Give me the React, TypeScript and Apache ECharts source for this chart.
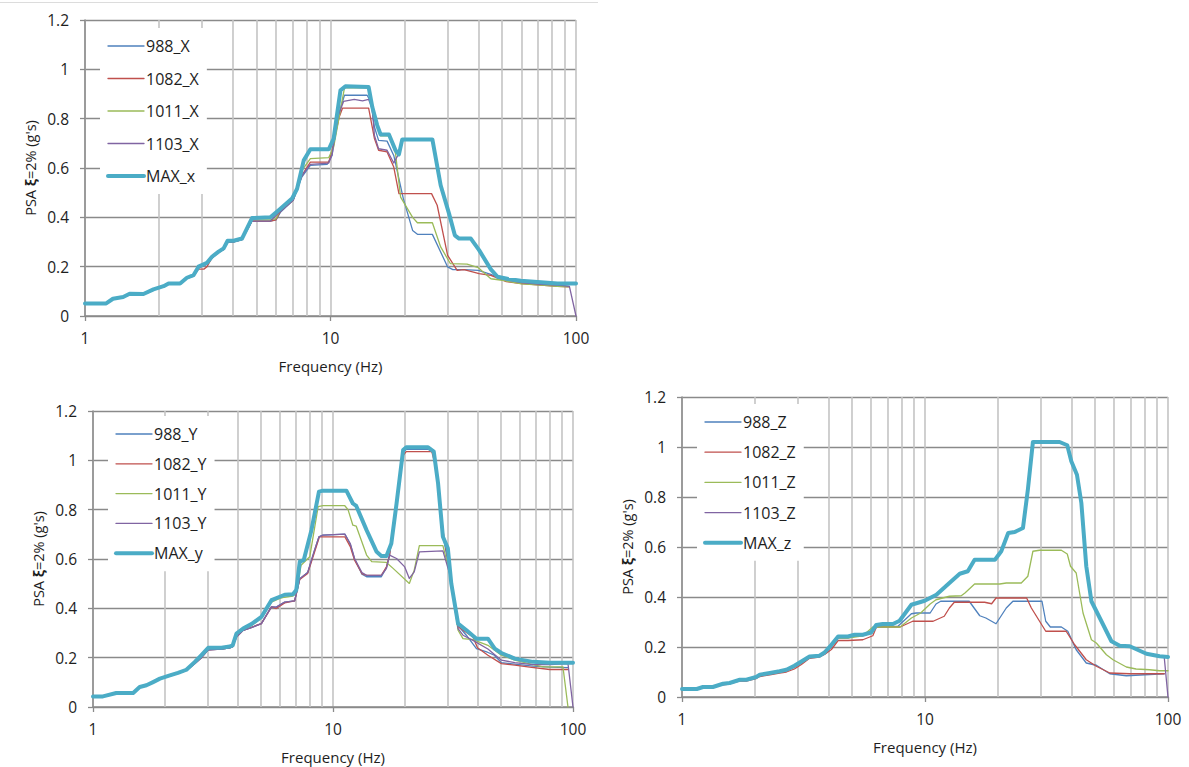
import { useEffect, useRef } from "react";
import * as echarts from "echarts";

// ---------- DATA (frequency Hz, PSA g) ----------
const minorFreqs = [2, 3, 4, 5, 6, 7, 8, 9, 20, 30, 40, 50, 60, 70, 80, 90];

// Chart X
const x988: [number, number][] = [
  [1, 0.05], [1.22, 0.05], [1.3, 0.068], [1.43, 0.075], [1.52, 0.088], [1.73, 0.087], [1.9, 0.106], [2.09, 0.119],
  [2.19, 0.13], [2.44, 0.13], [2.6, 0.152], [2.77, 0.163], [2.9, 0.195], [3.14, 0.21], [3.29, 0.235], [3.5, 0.258],
  [3.67, 0.27], [3.81, 0.3], [4.03, 0.3], [4.36, 0.31], [4.79, 0.385], [5.69, 0.385], [6.0, 0.39], [6.25, 0.42],
  [7.05, 0.469], [7.65, 0.564], [8.28, 0.611], [9.7, 0.615], [10.15, 0.651], [10.7, 0.807], [11.4, 0.895],
  [14.1, 0.895], [14.6, 0.868], [15.1, 0.766], [15.7, 0.712], [17.0, 0.709], [18.1, 0.651], [19.8, 0.476],
  [21.6, 0.347], [22.6, 0.331], [26.0, 0.331], [30.0, 0.199], [31.5, 0.188], [35, 0.188], [40, 0.185], [45, 0.169],
  [50, 0.15], [60, 0.135], [72, 0.128], [84, 0.125], [94, 0.12],
];
const x1082: [number, number][] = [
  [1, 0.05], [1.22, 0.05], [1.3, 0.068], [1.43, 0.075], [1.52, 0.088], [1.73, 0.087], [1.9, 0.106], [2.09, 0.119],
  [2.19, 0.13], [2.44, 0.13], [2.6, 0.152], [2.77, 0.163], [2.9, 0.19], [3.05, 0.19], [3.14, 0.2], [3.29, 0.235],
  [3.5, 0.258], [3.67, 0.27], [3.81, 0.3], [4.03, 0.3], [4.36, 0.31], [4.79, 0.385], [5.69, 0.385], [6.0, 0.39],
  [6.25, 0.425], [7.05, 0.47], [7.65, 0.57], [8.28, 0.624], [9.84, 0.624], [10.15, 0.672], [10.85, 0.807],
  [11.2, 0.843], [14.3, 0.843], [15.1, 0.719], [15.7, 0.672], [17.0, 0.665], [18.1, 0.604], [19.0, 0.496],
  [25.8, 0.496], [27.2, 0.449], [30.0, 0.246], [32.8, 0.185], [35, 0.188], [40.3, 0.172], [45, 0.165], [52, 0.139],
  [60, 0.131], [72, 0.125], [84, 0.12], [94, 0.118],
];
const x1011: [number, number][] = [
  [1, 0.05], [1.22, 0.05], [1.3, 0.069], [1.43, 0.076], [1.52, 0.089], [1.73, 0.088], [1.9, 0.107], [2.09, 0.12],
  [2.19, 0.131], [2.44, 0.131], [2.6, 0.153], [2.77, 0.164], [2.9, 0.197], [3.14, 0.212], [3.29, 0.237], [3.5, 0.259],
  [3.67, 0.272], [3.81, 0.302], [4.03, 0.302], [4.36, 0.312], [4.79, 0.39], [5.69, 0.39], [6.0, 0.395], [6.25, 0.43],
  [7.05, 0.475], [7.65, 0.59], [8.28, 0.638], [9.84, 0.642], [10.3, 0.685], [10.85, 0.807], [11.4, 0.925],
  [14.3, 0.925], [14.8, 0.84], [15.5, 0.765], [16.0, 0.73], [17.3, 0.73], [18.4, 0.66], [19.3, 0.482], [21.6, 0.4],
  [22.6, 0.378], [26, 0.378], [28.1, 0.28], [30.8, 0.212], [36, 0.21], [40, 0.196], [45, 0.151], [50, 0.145],
  [60, 0.13], [72, 0.125], [84, 0.12], [94, 0.118],
];
const x1103: [number, number][] = [
  [1, 0.05], [1.22, 0.05], [1.3, 0.068], [1.43, 0.075], [1.52, 0.088], [1.73, 0.087], [1.9, 0.106], [2.09, 0.119],
  [2.19, 0.13], [2.44, 0.13], [2.6, 0.152], [2.77, 0.163], [2.9, 0.195], [3.14, 0.21], [3.29, 0.235], [3.5, 0.258],
  [3.67, 0.27], [3.81, 0.3], [4.03, 0.3], [4.36, 0.31], [4.79, 0.385], [5.69, 0.385], [6.25, 0.425], [7.05, 0.47],
  [7.65, 0.57], [8.28, 0.615], [9.84, 0.62], [10.15, 0.655], [10.7, 0.807], [11.3, 0.87], [12.5, 0.878],
  [13.5, 0.872], [14.3, 0.878], [14.8, 0.84], [15.1, 0.732], [15.7, 0.678], [17.0, 0.672], [18.1, 0.62],
  [18.8, 0.651], [19.6, 0.714], [26.0, 0.714], [28.1, 0.53], [30.4, 0.413], [32.1, 0.325], [33.4, 0.312],
  [37.3, 0.312], [40.3, 0.265], [45, 0.187], [47.9, 0.157], [53, 0.145], [60, 0.135], [72, 0.128], [84, 0.125],
  [94, 0.12], [100, 0],
];
const xMax: [number, number][] = [
  [1, 0.051], [1.22, 0.051], [1.3, 0.07], [1.43, 0.077], [1.52, 0.09], [1.73, 0.089], [1.9, 0.108], [2.09, 0.121],
  [2.19, 0.132], [2.44, 0.132], [2.6, 0.155], [2.77, 0.166], [2.9, 0.2], [3.14, 0.216], [3.29, 0.24], [3.5, 0.261],
  [3.67, 0.274], [3.81, 0.305], [4.03, 0.305], [4.36, 0.314], [4.79, 0.397], [5.69, 0.4], [6.25, 0.435],
  [6.97, 0.476], [7.31, 0.516], [7.78, 0.631], [8.28, 0.676], [9.84, 0.676], [10.3, 0.719], [10.98, 0.915],
  [11.5, 0.931], [14.3, 0.928], [14.8, 0.847], [15.5, 0.773], [16.0, 0.736], [17.3, 0.736], [18.4, 0.672],
  [19.0, 0.655], [19.6, 0.716], [26.0, 0.716], [28.1, 0.53], [30.4, 0.415], [32.1, 0.327], [33.4, 0.314],
  [37.3, 0.314], [40.3, 0.267], [45, 0.189], [47.9, 0.159], [53, 0.15], [59.6, 0.143], [72, 0.137], [84, 0.132],
  [100, 0.132],
];

// Chart Y
const y988: [number, number][] = [
  [1, 0.043], [1.1, 0.043], [1.25, 0.057], [1.47, 0.057], [1.565, 0.08], [1.67, 0.087], [1.78, 0.1], [1.9, 0.113],
  [2.09, 0.126], [2.26, 0.136], [2.45, 0.148], [2.65, 0.175], [2.83, 0.2], [3.02, 0.232], [3.43, 0.235],
  [3.71, 0.24], [3.82, 0.245], [3.96, 0.284], [4.22, 0.311], [4.57, 0.322], [5.03, 0.338], [5.54, 0.406],
  [5.8, 0.405], [6.29, 0.425], [6.92, 0.43], [7.27, 0.52], [7.84, 0.545], [8.34, 0.63], [8.74, 0.69], [9.08, 0.697],
  [11.2, 0.701], [11.8, 0.66], [12.3, 0.6], [13.2, 0.538], [13.8, 0.528], [15.9, 0.528], [16.7, 0.565],
  [17.2, 0.616], [18.4, 0.825], [19.6, 1.03], [20.2, 1.045], [24.9, 1.045], [26.3, 1.03], [27.4, 0.9], [28.7, 0.7],
  [31.1, 0.51], [33.2, 0.33], [36, 0.29], [39.6, 0.237], [44, 0.222], [47, 0.21], [50.3, 0.18], [57.2, 0.174],
  [68.1, 0.166], [80, 0.162], [95, 0.16],
];
const y1082: [number, number][] = [
  [1, 0.043], [1.1, 0.043], [1.25, 0.057], [1.47, 0.057], [1.565, 0.08], [1.67, 0.087], [1.78, 0.1], [1.9, 0.113],
  [2.09, 0.126], [2.26, 0.136], [2.45, 0.148], [2.65, 0.175], [2.83, 0.2], [3.02, 0.232], [3.43, 0.235],
  [3.71, 0.24], [3.82, 0.245], [3.96, 0.284], [4.22, 0.311], [5.03, 0.338], [5.54, 0.406], [5.8, 0.399],
  [6.29, 0.422], [6.92, 0.43], [7.27, 0.517], [7.84, 0.541], [8.34, 0.622], [8.78, 0.69], [11.2, 0.69],
  [11.8, 0.65], [12.3, 0.595], [13.2, 0.541], [13.8, 0.534], [15.9, 0.534], [16.7, 0.568], [17.2, 0.616],
  [18.4, 0.82], [19.6, 1.02], [20.2, 1.035], [25.8, 1.035], [27.0, 0.961], [28.7, 0.717], [31.1, 0.514],
  [33.2, 0.325], [38.3, 0.284], [40, 0.24], [44.2, 0.21], [50.3, 0.176], [57.2, 0.17], [66, 0.162], [80, 0.152],
  [95, 0.152],
];
const y1011: [number, number][] = [
  [1, 0.043], [1.1, 0.043], [1.25, 0.057], [1.47, 0.057], [1.565, 0.081], [1.67, 0.088], [1.78, 0.101],
  [1.9, 0.115], [2.09, 0.128], [2.26, 0.138], [2.45, 0.15], [2.65, 0.18], [2.83, 0.207], [3.02, 0.238],
  [3.43, 0.238], [3.71, 0.243], [3.82, 0.248], [3.96, 0.29], [4.22, 0.315], [4.57, 0.33], [5.03, 0.36],
  [5.54, 0.425], [6.0, 0.44], [6.29, 0.445], [6.81, 0.45], [7.03, 0.46], [7.36, 0.575], [8.0, 0.609],
  [8.67, 0.812], [9.08, 0.816], [11.2, 0.816], [11.55, 0.8], [12.1, 0.737], [12.5, 0.733], [13.8, 0.616],
  [14.5, 0.589], [16.7, 0.586], [17.8, 0.562], [20.8, 0.501], [21.8, 0.555], [22.9, 0.654], [28.7, 0.654],
  [30.6, 0.548], [33.2, 0.311], [34.8, 0.277], [38.3, 0.273], [44.2, 0.25], [50.3, 0.21], [57.2, 0.19],
  [68.1, 0.172], [75, 0.163], [90.8, 0.163], [95.3, 0],
];
const y1103: [number, number][] = [
  [1, 0.043], [1.1, 0.043], [1.25, 0.057], [1.47, 0.057], [1.565, 0.08], [1.67, 0.087], [1.78, 0.1], [1.9, 0.113],
  [2.09, 0.126], [2.26, 0.136], [2.45, 0.148], [2.65, 0.175], [2.83, 0.2], [3.02, 0.232], [3.43, 0.235],
  [3.71, 0.24], [3.82, 0.245], [3.96, 0.284], [4.22, 0.311], [4.57, 0.322], [5.03, 0.338], [5.54, 0.406],
  [5.8, 0.405], [6.29, 0.425], [6.92, 0.43], [7.27, 0.52], [7.84, 0.545], [8.34, 0.63], [8.74, 0.69],
  [9.08, 0.697], [11.2, 0.701], [11.8, 0.663], [12.3, 0.602], [13.2, 0.545], [13.8, 0.534], [15.9, 0.534],
  [16.7, 0.562], [17.2, 0.616], [18.4, 0.602], [19.9, 0.568], [20.8, 0.521], [21.8, 0.548], [22.9, 0.629],
  [28.7, 0.633], [30.6, 0.541], [33.2, 0.318], [34.8, 0.291], [38.3, 0.27], [44.2, 0.235], [50.3, 0.19],
  [57.2, 0.18], [68.1, 0.172], [80, 0.172], [95.3, 0.176], [100, 0],
];
const yMax: [number, number][] = [
  [1, 0.043], [1.1, 0.043], [1.25, 0.057], [1.47, 0.057], [1.565, 0.081], [1.67, 0.088], [1.78, 0.101],
  [1.9, 0.115], [2.09, 0.128], [2.26, 0.138], [2.45, 0.151], [2.65, 0.182], [2.83, 0.21], [3.02, 0.24],
  [3.43, 0.24], [3.71, 0.245], [3.82, 0.25], [3.96, 0.298], [4.22, 0.318], [4.57, 0.336], [5.03, 0.365],
  [5.54, 0.433], [6.0, 0.447], [6.29, 0.455], [6.81, 0.457], [7.03, 0.474], [7.27, 0.589], [7.55, 0.595],
  [8.13, 0.717], [8.74, 0.873], [9.08, 0.877], [11.37, 0.877], [12.1, 0.825], [12.5, 0.815], [13.8, 0.717],
  [15.2, 0.629], [15.9, 0.612], [16.7, 0.612], [17.5, 0.663], [18.4, 0.825], [19.6, 1.042], [20.2, 1.053],
  [24.9, 1.053], [26.3, 1.035], [27.4, 0.907], [28.7, 0.69], [30.1, 0.643], [31.1, 0.501], [33.2, 0.338],
  [36.0, 0.311], [39.6, 0.277], [44.2, 0.277], [47.2, 0.237], [50.3, 0.219], [57.2, 0.196], [68.1, 0.183],
  [80, 0.179], [100, 0.179],
];

// Chart Z
const z988: [number, number][] = [
  [1, 0.032], [1.15, 0.032], [1.22, 0.038], [1.34, 0.038], [1.475, 0.05], [1.57, 0.054], [1.73, 0.066],
  [1.84, 0.066], [2.02, 0.076], [2.09, 0.085], [2.3, 0.092], [2.52, 0.099], [2.69, 0.104], [2.9, 0.118],
  [3.1, 0.135], [3.35, 0.158], [3.68, 0.162], [3.86, 0.172], [4.12, 0.2], [4.39, 0.236], [4.82, 0.236],
  [5.13, 0.245], [5.55, 0.245], [6.02, 0.256], [6.31, 0.28], [7.74, 0.283], [8.79, 0.333], [9.2, 0.336],
  [10.5, 0.336], [11.1, 0.372], [11.6, 0.383], [15.2, 0.383], [16.8, 0.325], [17.8, 0.316], [19.6, 0.293],
  [21.6, 0.356], [23.0, 0.383], [30.3, 0.383], [31.4, 0.303], [32.8, 0.28], [36.4, 0.28], [38.7, 0.263],
  [41.9, 0.189], [46.1, 0.136], [50.7, 0.127], [57.6, 0.093], [67.4, 0.085], [80.2, 0.089], [96.5, 0.093],
];
const z1082: [number, number][] = [
  [1, 0.03], [1.15, 0.03], [1.22, 0.037], [1.34, 0.037], [1.475, 0.049], [1.57, 0.052], [1.73, 0.064],
  [1.84, 0.064], [2.02, 0.074], [2.09, 0.082], [2.3, 0.089], [2.52, 0.096], [2.69, 0.1], [2.9, 0.112],
  [3.1, 0.13], [3.35, 0.155], [3.68, 0.16], [3.86, 0.17], [4.12, 0.19], [4.39, 0.226], [4.82, 0.226],
  [5.55, 0.229], [6.1, 0.245], [6.31, 0.28], [7.9, 0.28], [8.9, 0.303], [10.8, 0.303], [12.0, 0.323],
  [12.6, 0.356], [13.2, 0.379], [17.6, 0.379], [18.8, 0.373], [19.6, 0.396], [26.2, 0.396], [27.4, 0.356],
  [31.4, 0.263], [38.1, 0.263], [41.3, 0.209], [46.1, 0.149], [50.7, 0.123], [57.6, 0.096], [69.6, 0.093],
  [96.5, 0.093],
];
const z1011: [number, number][] = [
  [1, 0.032], [1.15, 0.032], [1.22, 0.039], [1.34, 0.039], [1.475, 0.051], [1.57, 0.055], [1.73, 0.067],
  [1.84, 0.067], [2.02, 0.078], [2.09, 0.087], [2.3, 0.094], [2.52, 0.101], [2.69, 0.106], [2.9, 0.12],
  [3.1, 0.137], [3.35, 0.16], [3.68, 0.163], [3.86, 0.175], [4.12, 0.205], [4.39, 0.236], [4.82, 0.236],
  [5.55, 0.245], [6.1, 0.28], [7.9, 0.28], [8.79, 0.316], [9.6, 0.336], [10.5, 0.372], [11.1, 0.389],
  [12.6, 0.403], [14.1, 0.405], [14.6, 0.416], [16.0, 0.452], [20.3, 0.452], [21.6, 0.456], [24.9, 0.456],
  [26.5, 0.483], [27.8, 0.583], [29.6, 0.587], [36.4, 0.587], [38.5, 0.572], [39.7, 0.523], [41.9, 0.496],
  [44.7, 0.336], [48.4, 0.229], [50.7, 0.216], [55.8, 0.169], [59.4, 0.149], [67.4, 0.12], [73.9, 0.112],
  [84, 0.109], [92.4, 0.105], [100, 0.105],
];
const z1103: [number, number][] = [
  [1, 0.032], [1.15, 0.032], [1.22, 0.039], [1.34, 0.039], [1.475, 0.052], [1.57, 0.055], [1.73, 0.068],
  [1.84, 0.068], [2.02, 0.079], [2.09, 0.088], [2.3, 0.095], [2.52, 0.102], [2.69, 0.108], [2.9, 0.123],
  [3.1, 0.14], [3.35, 0.16], [3.68, 0.163], [3.86, 0.176], [4.12, 0.207], [4.39, 0.24], [4.82, 0.24],
  [5.13, 0.247], [5.55, 0.247], [6.0, 0.256], [6.3, 0.286], [6.7, 0.29], [7.38, 0.29], [7.86, 0.303],
  [8.79, 0.367], [9.97, 0.383], [11.14, 0.407], [12.6, 0.454], [13.9, 0.491], [15.0, 0.501], [16.0, 0.547],
  [19.4, 0.547], [20.6, 0.581], [22.0, 0.654], [23.4, 0.658], [25.3, 0.674], [26.5, 0.827], [27.8, 1.018],
  [35.8, 1.018], [38.5, 1.005], [40.0, 0.941], [42.2, 0.887], [44, 0.774], [46.1, 0.521], [48.4, 0.381],
  [52.4, 0.314], [58.5, 0.221], [63.3, 0.203], [69.6, 0.201], [81.5, 0.171], [92.4, 0.161], [96.5, 0.159],
  [100, 0],
];
const zMax: [number, number][] = [
  [1, 0.032], [1.15, 0.032], [1.22, 0.04], [1.34, 0.04], [1.475, 0.053], [1.57, 0.056], [1.73, 0.069],
  [1.84, 0.069], [2.02, 0.08], [2.09, 0.089], [2.3, 0.096], [2.52, 0.103], [2.69, 0.109], [2.9, 0.125],
  [3.1, 0.142], [3.35, 0.162], [3.68, 0.165], [3.86, 0.178], [4.12, 0.209], [4.39, 0.242], [4.82, 0.242],
  [5.13, 0.249], [5.55, 0.249], [6.0, 0.258], [6.3, 0.288], [6.7, 0.292], [7.38, 0.292], [7.86, 0.305],
  [8.79, 0.369], [9.97, 0.385], [11.14, 0.409], [12.6, 0.456], [13.9, 0.493], [15.0, 0.503], [16.0, 0.549],
  [19.4, 0.549], [20.6, 0.583], [22.0, 0.656], [23.4, 0.66], [25.3, 0.676], [26.5, 0.829], [27.8, 1.02],
  [35.8, 1.02], [38.5, 1.007], [40.0, 0.943], [42.2, 0.889], [44, 0.776], [46.1, 0.523], [48.4, 0.383],
  [52.4, 0.316], [58.5, 0.223], [63.3, 0.205], [69.6, 0.203], [81.5, 0.173], [92.4, 0.163], [100, 0.16],
];

const namesX = ["988_X", "1082_X", "1011_X", "1103_X", "MAX_x"];
const namesY = ["988_Y", "1082_Y", "1011_Y", "1103_Y", "MAX_y"];
const namesZ = ["988_Z", "1082_Z", "1011_Z", "1103_Z", "MAX_z"];
const xTitle = "Frequency (Hz)";

// ---------- STYLE / LAYOUT ----------
const COLORS = ["#4F81BD", "#C0504D", "#9BBB59", "#8064A2", "#4BACC6"];
const FONT = "'Open Sans', 'Noto Sans', sans-serif";
const TEXT = "#1e1e1e";
const AXIS = "#8a8a8a";
const VGRID = "#c4c4c4";

const panels = [
  { names: namesX, data: [x988, x1082, x1011, x1103, xMax], grid: { left: 85, top: 20, width: 491, height: 296 },
    legend: { left: 100, top: 28, gap: 16.5 } },
  { names: namesY, data: [y988, y1082, y1011, y1103, yMax], grid: { left: 93, top: 411, width: 480, height: 296 },
    legend: { left: 108, top: 416, gap: 13.8 } },
  { names: namesZ, data: [z988, z1082, z1011, z1103, zMax], grid: { left: 682, top: 397, width: 486, height: 300 },
    legend: { left: 697, top: 404, gap: 14.2 } },
];

export default function App() {
  const ref = useRef<HTMLDivElement>(null);

  useEffect(() => {
    if (!ref.current) return;
    const chart = echarts.init(ref.current, null, { renderer: "svg" });

    const series: any[] = [];
    panels.forEach((p, gi) => {
      p.names.forEach((name, si) => {
        const isMax = si === 4;
        const s: any = {
          type: "line",
          name,
          xAxisIndex: gi,
          yAxisIndex: gi,
          data: p.data[si],
          showSymbol: false,
          symbol: "none",
          z: isMax ? 3 : 2,
          lineStyle: { color: COLORS[si], width: isMax ? 4 : 1.3, cap: "round", join: "round" },
          itemStyle: { color: COLORS[si] },
          emphasis: { disabled: true },
          silent: true,
        };
        if (si === 0) {
          s.markLine = {
            silent: true,
            z: 1,
            symbol: ["none", "none"],
            label: { show: false },
            emphasis: { disabled: true },
            lineStyle: { color: VGRID, width: 1.6, type: "solid" },
            data: minorFreqs.map((f) => ({ xAxis: f })),
          };
        }
        series.push(s);
      });
    });

    const option: any = {
      animation: false,
      backgroundColor: "#ffffff",
      textStyle: { fontFamily: FONT },
      graphic: [
        { type: "line", shape: { x1: 0, y1: 2.5, x2: 598, y2: 2.5 }, style: { stroke: "#dcdcdc", lineWidth: 1 }, silent: true },
      ],
      grid: panels.map((p) => ({ ...p.grid, containLabel: false })),
      legend: panels.map((p) => ({
        orient: "vertical",
        left: p.legend.left,
        top: p.legend.top,
        itemGap: p.legend.gap,
        itemWidth: 36,
        itemHeight: 14,
        padding: [10, 8, 10, 6],
        backgroundColor: "#ffffff",
        selectedMode: false,
        textStyle: { fontSize: 16, color: TEXT, fontFamily: FONT, padding: [0, 0, 0, -3] },
        data: p.names.map((n, i) => ({
          name: n,
          itemStyle: { opacity: 0 },
          lineStyle: { width: i === 4 ? 4 : 1.3, color: COLORS[i] },
        })),
      })),
      xAxis: panels.map((_, gi) => ({
        type: "log",
        logBase: 10,
        min: 1,
        max: 100,
        gridIndex: gi,
        name: xTitle,
        nameLocation: "middle",
        nameGap: 42,
        nameTextStyle: { fontSize: 15, color: TEXT, fontFamily: FONT },
        axisLine: { show: true, onZero: false, lineStyle: { color: AXIS, width: 1.5 } },
        axisTick: { show: true, length: 5, lineStyle: { color: AXIS, width: 1.3 } },
        axisLabel: { margin: 14, fontSize: 15.5, color: TEXT, fontFamily: FONT },
        splitLine: { show: true, lineStyle: { color: VGRID, width: 1.6 } },
      })),
      yAxis: panels.map((_, gi) => ({
        type: "value",
        min: 0,
        max: 1.2,
        interval: 0.2,
        gridIndex: gi,
        name: `{a|PSA }{b|ξ}{a|=2% (g's)}`,
        nameLocation: "middle",
        nameGap: 47,
        nameRotate: 90,
        nameTextStyle: {
          fontFamily: FONT,
          color: TEXT,
          rich: {
            a: { fontSize: 14.5, color: TEXT, fontFamily: FONT },
            b: { fontSize: 14.5, color: TEXT, fontFamily: FONT, fontWeight: "bold" },
          },
        },
        axisLine: { show: true, lineStyle: { color: AXIS, width: 1.5 } },
        axisTick: { show: true, length: 5, lineStyle: { color: AXIS, width: 1.3 } },
        axisLabel: { margin: 16, fontSize: 15.5, color: TEXT, fontFamily: FONT },
        splitLine: { show: true, lineStyle: { color: AXIS, width: 1.3 } },
      })),
      series,
    };

    chart.setOption(option);
    return () => chart.dispose();
  }, []);

  return (
    <div
      ref={ref}
      style={{ position: "absolute", left: 0, top: 0, width: 1189, height: 767, background: "#fff" }}
    />
  );
}
